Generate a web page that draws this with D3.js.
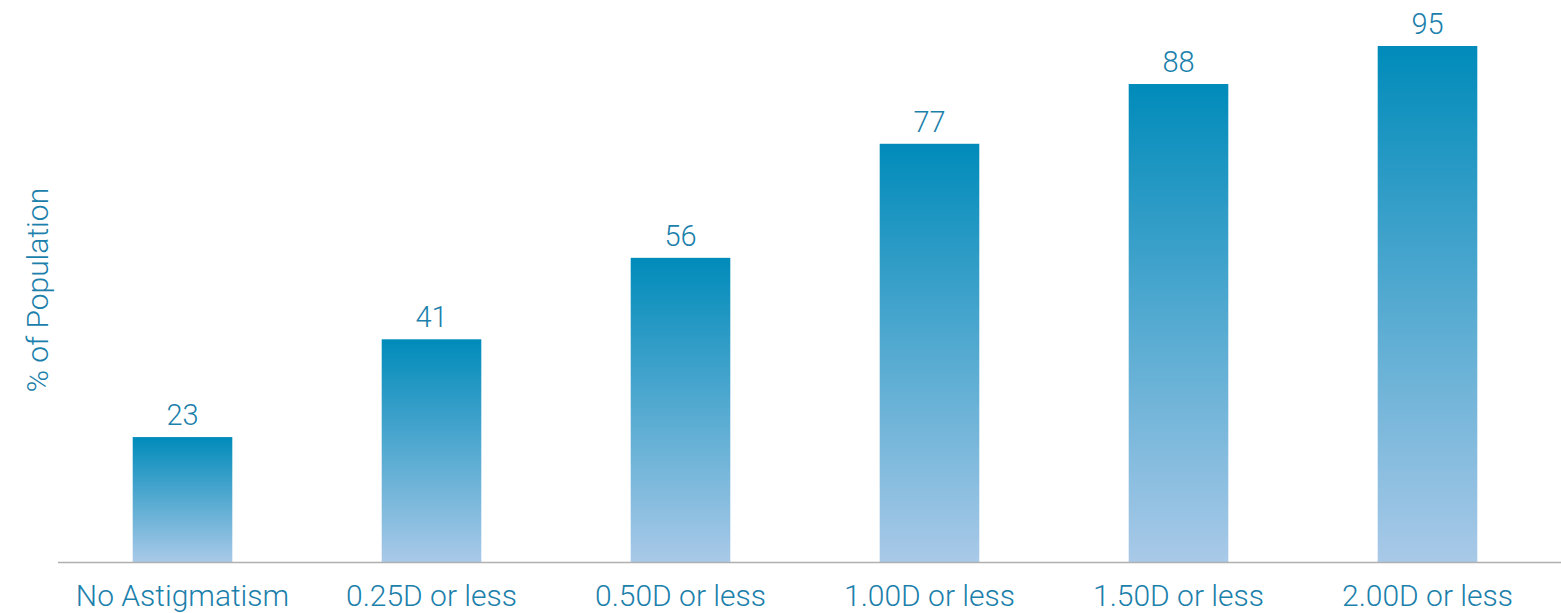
<!DOCTYPE html>
<html>
<head>
<meta charset="utf-8">
<script src="https://cdn.jsdelivr.net/npm/d3@7"></script>
<style>
  body { margin: 0; background: #fff; }
  text { font-family: Roboto, "Liberation Sans", sans-serif; font-weight: 300; }
</style>
</head>
<body>
<div id="chart"></div>
<script>
const categories = ["No Astigmatism", "0.25D or less", "0.50D or less", "1.00D or less", "1.50D or less", "2.00D or less"];
const values = [23, 41, 56, 77, 88, 95];
const yTitle = "% of Population";

const W = 1561, H = 613;
const baseY = 562, topY = 46;
const textColor = "#1b80ab";

const svg = d3.select("#chart").append("svg")
    .attr("width", W)
    .attr("height", H);

const grad = svg.append("defs").append("linearGradient")
    .attr("id", "barGrad")
    .attr("x1", 0).attr("y1", 0).attr("x2", 0).attr("y2", 1);
grad.append("stop").attr("offset", "0%").attr("stop-color", "#008bba");
grad.append("stop").attr("offset", "100%").attr("stop-color", "#a9c9e8");

const x = d3.scaleBand()
    .domain(categories)
    .range([58, 1552])
    .paddingInner(0.6)
    .paddingOuter(0.3);

const y = d3.scaleLinear()
    .domain([0, 95])
    .range([baseY, topY]);

// bars
svg.selectAll("rect.bar")
    .data(values)
    .enter()
    .append("rect")
    .attr("class", "bar")
    .attr("x", (d, i) => x(categories[i]))
    .attr("y", d => y(d))
    .attr("width", x.bandwidth())
    .attr("height", d => y(0) - y(d))
    .style("fill", "url(#barGrad)");

// value labels
svg.selectAll("text.val")
    .data(values)
    .enter()
    .append("text")
    .attr("class", "val")
    .attr("x", (d, i) => x(categories[i]) + x.bandwidth() / 2)
    .attr("y", d => y(d) - 12)
    .attr("text-anchor", "middle")
    .style("font-size", "29px")
    .style("fill", textColor)
    .text(d => d);

// x axis
const xAxis = svg.append("g")
    .attr("transform", `translate(0,${baseY})`)
    .call(d3.axisBottom(x).tickSize(0).tickPadding(23));
xAxis.select(".domain").remove();
xAxis.append("line")
    .attr("x1", 58).attr("x2", W)
    .attr("y1", 0.5).attr("y2", 0.5)
    .style("stroke", "#b0b0b0")
    .style("stroke-width", 1.5);
xAxis.selectAll(".tick text")
    .attr("dy", "0.71em")
    .style("font-family", "Roboto, 'Liberation Sans', sans-serif")
    .style("font-weight", 300)
    .style("font-size", "30px")
    .style("fill", textColor);

// y title
svg.append("text")
    .attr("transform", `translate(48,290) rotate(-90)`)
    .attr("text-anchor", "middle")
    .style("font-size", "30px")
    .style("fill", textColor)
    .text(yTitle);
</script>
</body>
</html>
